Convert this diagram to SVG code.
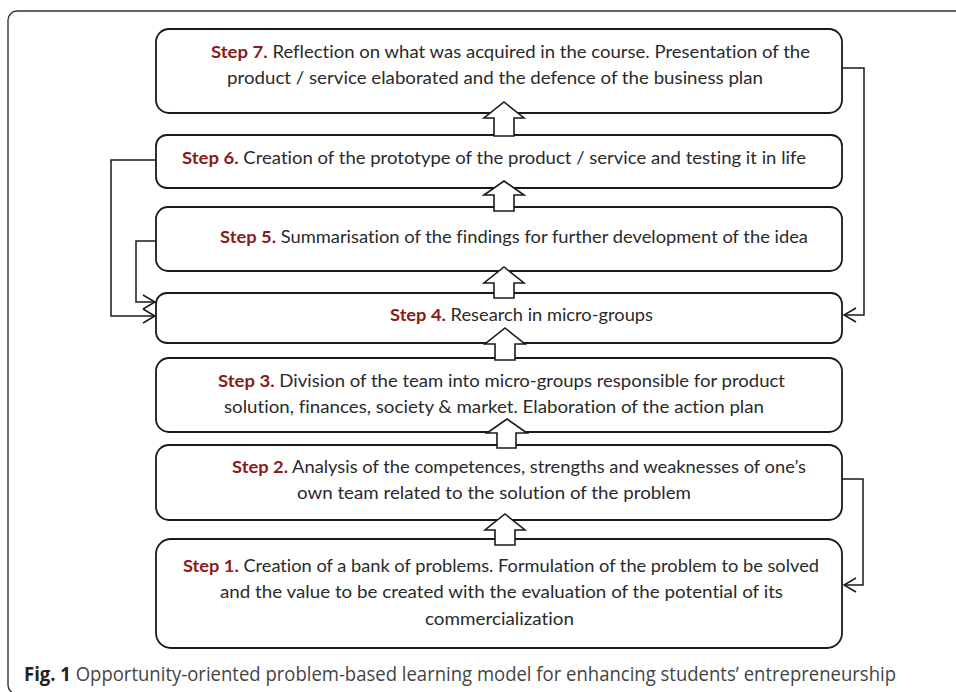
<svg xmlns="http://www.w3.org/2000/svg" width="956" height="692" viewBox="0 0 956 692">
<style>
.frame{fill:#fff;stroke:#333;stroke-width:1.4}
.box{fill:#fff;stroke:#1a1a1a;stroke-width:1.8}
.t{font-family:Lato,"Liberation Sans",sans-serif;font-size:17.5px;fill:#2a2a2a;font-variant-ligatures:none}
.s{font-weight:bold;fill:#8b1a1a}
.blk{fill:#fff;stroke:#1a1a1a;stroke-width:1.6;stroke-linejoin:miter}
.con{fill:none;stroke:#1a1a1a;stroke-width:1.5}
.cap{font-family:"Open Sans","Noto Sans","Liberation Sans",sans-serif;font-size:19.5px;fill:#444;font-variant-ligatures:none}
.capb{font-weight:bold;fill:#222}
</style>
<defs>
<marker id="open" viewBox="0 0 14 16" refX="13" refY="8" markerWidth="14" markerHeight="16" markerUnits="userSpaceOnUse" orient="auto">
<path d="M1,1 L13,8 L1,15" fill="none" stroke="#1a1a1a" stroke-width="1.5"/>
</marker>
</defs>
<rect class="frame" x="8" y="11" width="1000" height="683" rx="9"/>

<g id="step7">
<rect class="box" x="156" y="29" width="686" height="84" rx="13"/>
<text class="t" x="211" y="58" textLength="599" lengthAdjust="spacingAndGlyphs"><tspan class="s">Step 7.</tspan> Reflection on what was acquired in the course. Presentation of the</text>
<text class="t" x="227" y="84" textLength="536" lengthAdjust="spacingAndGlyphs">product / service elaborated and the defence of the business plan</text>
</g>
<g id="step6">
<rect class="box" x="156" y="135" width="686" height="53" rx="11"/>
<text class="t" x="182" y="164" textLength="624" lengthAdjust="spacingAndGlyphs"><tspan class="s">Step 6.</tspan> Creation of the prototype of the product / service and testing it in life</text>
</g>
<g id="step5">
<rect class="box" x="156" y="207" width="686" height="64" rx="12"/>
<text class="t" x="220" y="243" textLength="588" lengthAdjust="spacingAndGlyphs"><tspan class="s">Step 5.</tspan> Summarisation of the findings for further development of the idea</text>
</g>
<g id="step4">
<rect class="box" x="156" y="293" width="686" height="50" rx="11"/>
<text class="t" x="390" y="321" textLength="263" lengthAdjust="spacingAndGlyphs"><tspan class="s">Step 4.</tspan> Research in micro-groups</text>
</g>
<g id="step3">
<rect class="box" x="156" y="358" width="686" height="74" rx="13"/>
<text class="t" x="218" y="387" textLength="567" lengthAdjust="spacingAndGlyphs"><tspan class="s">Step 3.</tspan> Division of the team into micro-groups responsible for product</text>
<text class="t" x="224" y="413" textLength="540" lengthAdjust="spacingAndGlyphs">solution, finances, society &amp; market. Elaboration of the action plan</text>
</g>
<g id="step2">
<rect class="box" x="156" y="445" width="686" height="75" rx="13"/>
<text class="t" x="232" y="473" textLength="574" lengthAdjust="spacingAndGlyphs"><tspan class="s">Step 2.</tspan> Analysis of the competences, strengths and weaknesses of one’s</text>
<text class="t" x="297" y="499" textLength="394" lengthAdjust="spacingAndGlyphs">own team related to the solution of the problem</text>
</g>
<g id="step1">
<rect class="box" x="156" y="539" width="686" height="109" rx="15"/>
<text class="t" x="183" y="572" textLength="636" lengthAdjust="spacingAndGlyphs"><tspan class="s">Step 1.</tspan> Creation of a bank of problems. Formulation of the problem to be solved</text>
<text class="t" x="220" y="598" textLength="563" lengthAdjust="spacingAndGlyphs">and the value to be created with the evaluation of the potential of its</text>
<text class="t" x="425" y="625" textLength="149" lengthAdjust="spacingAndGlyphs">commercialization</text>
</g>

<g id="connectors">
<path class="blk" d="M504,102 L524,118 L514,118 L514,136 L494,136 L494,118 L484,118 Z"/>
<path class="blk" d="M504,181 L524,195 L514,195 L514,211 L494,211 L494,195 L484,195 Z"/>
<path class="blk" d="M504,267 L524,283 L514,283 L514,298 L494,298 L494,283 L484,283 Z"/>
<path class="blk" d="M505,328 L525,344 L515,344 L515,360 L495,360 L495,344 L485,344 Z"/>
<path class="blk" d="M507,419 L527,433 L516,433 L516,448 L497,448 L497,433 L487,433 Z"/>
<path class="blk" d="M505,514 L525,530 L515,530 L515,545 L495,545 L495,530 L485,530 Z"/>
<path class="con" d="M842,68 H864 V315 H844" marker-end="url(#open)"/>
<path class="con" d="M156,160 H111 V316 H155" marker-end="url(#open)"/>
<path class="con" d="M156,241 H136 V302 H155" marker-end="url(#open)"/>
<path class="con" d="M842,479 H863 V585 H844" marker-end="url(#open)"/>
</g>

<text class="cap" x="24" y="681" textLength="872" lengthAdjust="spacingAndGlyphs"><tspan class="capb">Fig. 1</tspan> Opportunity-oriented problem-based learning model for enhancing students’ entrepreneurship</text>
</svg>
